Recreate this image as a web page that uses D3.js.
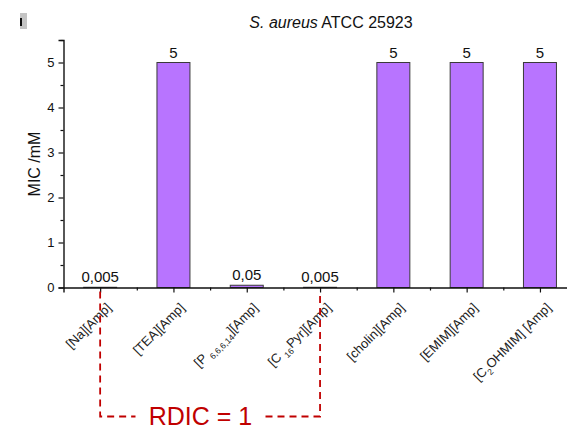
<!DOCTYPE html>
<html>
<head>
<meta charset="utf-8">
<script src="https://cdn.jsdelivr.net/npm/d3@7/dist/d3.min.js"></script>
<style>
  html, body { margin: 0; padding: 0; background: #fff; }
  svg { display: block; font-family: "Liberation Sans", Arial, sans-serif; }
</style>
</head>
<body>
<svg id="chart" width="567" height="430"></svg>
<script>
// Compounds tested against S. aureus ATCC 25923 (label pieces: text / subscript)
const categories = ["Na", "TEA", "P6,6,6,14", "C16Pyr", "cholin", "EMIM", "C2OHMIM"];
const labelParts = [
  [["[Na][Amp]", false]],
  [["[TEA][Amp]", false]],
  [["[P ", false], ["6,6,6,14", true], ["][Amp]", false]],
  [["[C ", false], ["16", true], ["Pyr][Amp]", false]],
  [["[cholin][Amp]", false]],
  [["[EMIM][Amp]", false]],
  [["[C", false], ["2", true], ["OHMIM] [Amp]", false]]
];
const micValues = [0.005, 5, 0.05, 0.005, 5, 5, 5];
const micLabels = ["0,005", "5", "0,05", "0,005", "5", "5", "5"];
const yTicks = [0, 1, 2, 3, 4, 5];
const yMinorTicks = [0.5, 1.5, 2.5, 3.5, 4.5, 5.5];
const rdicPair = ["Na", "C16Pyr"];
const rdicText = "RDIC = 1";

const svg = d3.select("#chart");
const plotLeft = 63.5, plotRight = 576.6, plotBottom = 287.5, plotTop = 40;

const xBand = d3.scaleBand().domain(categories).range([plotLeft, plotRight])
  .paddingInner(0.55).paddingOuter(0.275);
const xIdx = d3.scaleLinear().domain([-0.5, categories.length - 0.5]).range([plotLeft, plotRight]);
const y = d3.scaleLinear().domain([0, 5.5]).range([plotBottom, plotTop]);

// small marker in the top-left corner
svg.append("rect").attr("x", 20).attr("y", 13).attr("width", 7).attr("height", 16).attr("fill", "#c4c4c4");
svg.append("rect").attr("x", 20).attr("y", 18).attr("width", 2).attr("height", 8).attr("fill", "#111");

// title
const title = svg.append("text").attr("x", 331).attr("y", 28).attr("text-anchor", "middle")
  .attr("font-size", 16).attr("fill", "#111");
title.append("tspan").attr("font-style", "italic").text("S. aureus");
title.append("tspan").text(" ATCC 25923");

// bars
svg.append("g").selectAll("rect").data(micValues).join("rect")
  .attr("x", (d, i) => xBand(categories[i]))
  .attr("width", xBand.bandwidth())
  .attr("y", d => y(d))
  .attr("height", d => y(0) - y(d))
  .attr("fill", "#b874ff")
  .attr("stroke", "#3a3a3a")
  .attr("stroke-width", 1);

// value labels
svg.append("g").selectAll("text").data(micValues).join("text")
  .attr("x", (d, i) => xBand(categories[i]) + xBand.bandwidth() / 2)
  .attr("y", d => y(d) - 5)
  .attr("text-anchor", "middle")
  .attr("font-size", 15)
  .attr("fill", "#111")
  .text((d, i) => micLabels[i]);

// y axis
const yAxis = svg.append("g").attr("transform", `translate(${plotLeft},0)`)
  .call(d3.axisLeft(y).tickValues(yTicks).tickSize(5).tickPadding(4).tickFormat(d3.format("d")));
svg.append("g").attr("transform", `translate(${plotLeft},0)`)
  .call(d3.axisLeft(y).tickValues(yMinorTicks).tickSize(3).tickFormat(""))
  .select(".domain").remove();
yAxis.selectAll("text").attr("font-size", 13).attr("fill", "#111").attr("font-family", "Liberation Sans, Arial, sans-serif");

// x axis
svg.append("g").attr("transform", `translate(0,${plotBottom})`)
  .call(d3.axisBottom(xIdx).tickValues(d3.range(categories.length)).tickSize(5).tickFormat(""));
svg.append("g").attr("transform", `translate(0,${plotBottom})`)
  .call(d3.axisBottom(xIdx).tickValues(d3.range(categories.length).map(i => i + 0.5)).tickSize(3).tickFormat(""))
  .select(".domain").remove();

svg.selectAll(".domain").attr("stroke", "#111").attr("stroke-width", 1.4);
svg.selectAll(".tick line").attr("stroke", "#111").attr("stroke-width", 1.2);

// y title
svg.append("text")
  .attr("transform", "translate(40,164) rotate(-90)")
  .attr("text-anchor", "middle")
  .attr("font-size", 16)
  .attr("fill", "#111")
  .text("MIC /mM");

// rotated category labels with subscripts
const xl = svg.append("g");
labelParts.forEach((parts, i) => {
  const t = xl.append("text")
    .attr("transform", `translate(${xIdx(i) + 12},${plotBottom + 21}) rotate(-45)`)
    .attr("text-anchor", "end")
    .attr("font-size", 13)
    .attr("fill", "#222");
  parts.forEach(([s, sub], k) => {
    const sp = t.append("tspan").text(s);
    if (sub) sp.attr("font-size", 8.5).attr("dy", 4);
    else if (k > 0) sp.attr("dy", -4);
  });
});

// RDIC bracket between the two compounds
const xa = xBand(rdicPair[0]) + xBand.bandwidth() / 2;
const xb = xBand(rdicPair[1]) + xBand.bandwidth() / 2;
const yb = 416.5;
const mid = 200.5, gap = 65;
const red = "#c00000";
svg.append("path")
  .attr("d", `M${xa},${plotBottom + 4}V${yb}H${mid - gap}M${mid + gap},${yb}H${xb}V${plotBottom + 4}`)
  .attr("fill", "none").attr("stroke", red).attr("stroke-width", 1.8)
  .attr("stroke-dasharray", "7,5");
svg.append("text").attr("x", mid).attr("y", 424.5).attr("text-anchor", "middle")
  .attr("font-size", 25).attr("fill", red)
  .attr("font-family", "'Liberation Sans', Arial, sans-serif")
  .text(rdicText);
</script>
</body>
</html>
